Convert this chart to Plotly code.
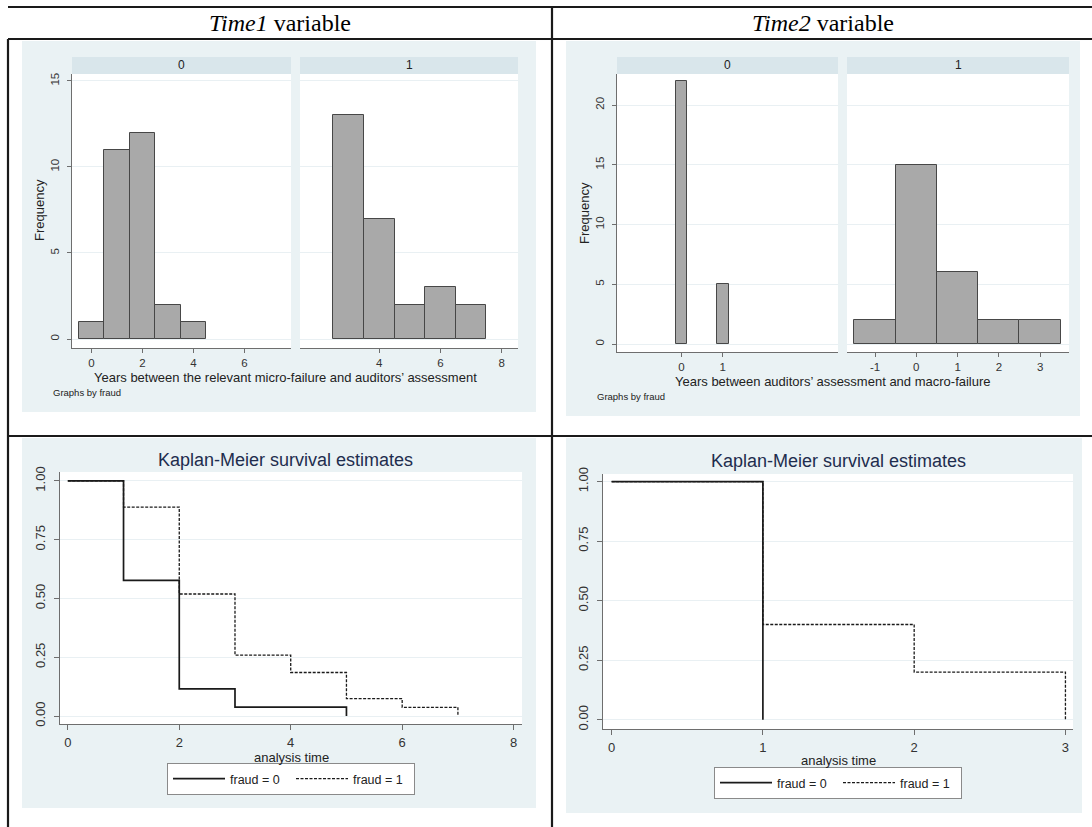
import plotly.graph_objects as go

W, H = 1092, 827

# ---- data -------------------------------------------------------------
# Time1 histogram (bins of width 1, centred on the integer years)
t1_bins_f0 = [0, 1, 2, 3, 4]
t1_freq_f0 = [1, 11, 12, 2, 1]
t1_bins_f1 = [3, 4, 5, 6, 7]
t1_freq_f1 = [13, 7, 2, 3, 2]

# Time2 histogram
t2_bins_f0 = [0, 1]
t2_freq_f0 = [22, 5]
t2_bins_f1 = [-1, 0, 1, 2, 3]
t2_freq_f1 = [2, 15, 6, 2, 2]

# Kaplan-Meier survival estimates (step functions)
km1_time_f0 = [0, 1, 2, 3, 5]
km1_surv_f0 = [1.0, 0.577, 0.115, 0.038, 0.0]
km1_time_f1 = [0, 1, 2, 3, 4, 5, 6, 7]
km1_surv_f1 = [1.0, 0.889, 0.519, 0.259, 0.185, 0.074, 0.037, 0.0]
km2_time_f0 = [0, 1]
km2_surv_f0 = [1.0, 0.0]
km2_time_f1 = [0, 1, 2, 3]
km2_surv_f1 = [1.0, 0.4, 0.2, 0.0]

t1_yticks = [0, 5, 10, 15]
t1_xticks_f0 = [0, 2, 4, 6]
t1_xticks_f1 = [4, 6, 8]
t2_yticks = [0, 5, 10, 15, 20]
t2_xticks_f0 = [0, 1]
t2_xticks_f1 = [-1, 0, 1, 2, 3]
km_yticks = [0.0, 0.25, 0.5, 0.75, 1.0]
km1_xticks = [0, 2, 4, 6, 8]
km2_xticks = [0, 1, 2, 3]
group_labels = ["0", "1"]
legend_labels = ["fraud = 0", "fraud = 1"]

# ---- styling ----------------------------------------------------------
SANS = "Liberation Sans, Arial, sans-serif"
SERIF = "Liberation Serif, Times New Roman, serif"
GRAPH_BG = "#EAF2F4"
STRIP_BG = "#D9E6EB"
GRID = "#E9F0F3"
AXIS = "#6E6E6E"
BAR_FILL = "#A9A9A9"
BAR_LINE = "#474747"
INK = "#222222"
TITLE_INK = "#1E2D4E"


def fx(px):
    return px / W


def fy(py):
    return 1 - py / H


def labels(vals, fmt):
    # plain ASCII hyphen for negatives
    return [fmt.format(v).replace("\u2212", "-") for v in vals]


fig = go.Figure()
layout_axes = {}


def add_axes(n, x0, x1, y0, y1, xrange, yrange, xticks, yticks, show_y,
             tick_size, ticklen, x_standoff, y_standoff, yfmt="{:g}"):
    xs = "" if n == 1 else str(n)
    layout_axes["xaxis" + xs] = dict(
        domain=[fx(x0), fx(x1)], range=xrange, anchor="y" + xs,
        automargin=False,
        tickmode="array", tickvals=xticks, ticktext=labels(xticks, "{:g}"),
        ticks="outside", ticklen=ticklen,
        tickcolor=AXIS, showline=True, linecolor=AXIS, linewidth=1,
        showgrid=False, zeroline=False, ticklabelstandoff=x_standoff,
        tickfont=dict(family=SANS, size=tick_size, color="#333"),
        fixedrange=True,
    )
    ya = dict(
        domain=[fy(y1), fy(y0)], range=yrange, anchor="x" + xs,
        automargin=False,
        tickmode="array", tickvals=yticks, ticktext=labels(yticks, yfmt),
        showgrid=True, gridcolor=GRID, gridwidth=1, zeroline=False,
        fixedrange=True,
    )
    if show_y:
        ya.update(ticks="outside", ticklen=ticklen, tickcolor=AXIS,
                  showline=True, linecolor=AXIS, linewidth=1,
                  tickangle=-90, ticklabelstandoff=y_standoff,
                  tickfont=dict(family=SANS, size=tick_size, color="#333"))
    else:
        ya.update(ticks="", showline=False, showticklabels=False)
    layout_axes["yaxis" + xs] = ya


# Time1 panels
add_axes(1, 72, 291, 74, 348, [-0.76, 7.82], [-0.52, 15.4],
         t1_xticks_f0, t1_yticks, True, 11.5, 4, 0, 3)
add_axes(2, 300, 518, 74, 348, [1.41, 8.53], [-0.52, 15.4],
         t1_xticks_f1, t1_yticks, False, 11.5, 4, 0, 3)
# Time2 panels
add_axes(3, 617, 838, 74, 352, [-1.56, 3.79], [-0.67, 22.6],
         t2_xticks_f0, t2_yticks, True, 11.5, 4, 0, 3)
add_axes(4, 847, 1069, 74, 352, [-1.68, 3.70], [-0.67, 22.6],
         t2_xticks_f1, t2_yticks, False, 11.5, 4, 0, 3)
# Kaplan-Meier panels
add_axes(5, 60, 522, 472, 724, [-0.14, 8.15], [-0.034, 1.038],
         km1_xticks, km_yticks, True, 13, 5, 1, 4, "{:.2f}")
add_axes(6, 603, 1073, 474, 729, [-0.057, 3.05], [-0.039, 1.032],
         km2_xticks, km_yticks, True, 13, 5, 1, 4, "{:.2f}")

bar_style = dict(color=BAR_FILL, line=dict(color=BAR_LINE, width=1))

fig.add_trace(go.Bar(x=t1_bins_f0, y=t1_freq_f0, width=1, marker=bar_style,
                     xaxis="x", yaxis="y", showlegend=False))
fig.add_trace(go.Bar(x=t1_bins_f1, y=t1_freq_f1, width=1, marker=bar_style,
                     xaxis="x2", yaxis="y2", showlegend=False))
fig.add_trace(go.Bar(x=t2_bins_f0, y=t2_freq_f0, width=0.28, marker=bar_style,
                     xaxis="x3", yaxis="y3", showlegend=False))
fig.add_trace(go.Bar(x=t2_bins_f1, y=t2_freq_f1, width=1, marker=bar_style,
                     xaxis="x4", yaxis="y4", showlegend=False))

solid = dict(color="#1A1A1A", width=1.7, shape="hv")
dashed = dict(color="#1A1A1A", width=1.3, shape="hv", dash="3px,1.5px")

fig.add_trace(go.Scatter(x=km1_time_f0, y=km1_surv_f0, mode="lines",
                         line=solid, name=legend_labels[0],
                         xaxis="x5", yaxis="y5", legend="legend"))
fig.add_trace(go.Scatter(x=km1_time_f1, y=km1_surv_f1, mode="lines",
                         line=dashed, name=legend_labels[1],
                         xaxis="x5", yaxis="y5", legend="legend"))
fig.add_trace(go.Scatter(x=km2_time_f0, y=km2_surv_f0, mode="lines",
                         line=solid, name=legend_labels[0],
                         xaxis="x6", yaxis="y6", legend="legend2"))
fig.add_trace(go.Scatter(x=km2_time_f1, y=km2_surv_f1, mode="lines",
                         line=dashed, name=legend_labels[1],
                         xaxis="x6", yaxis="y6", legend="legend2"))

# ---- background blocks, strips and table rules -------------------------
shapes = []


def rect(x0, y0, x1, y1, fill, line=None, width=0):
    shapes.append(dict(type="rect", xref="paper", yref="paper",
                       x0=fx(x0), x1=fx(x1), y0=fy(y1), y1=fy(y0),
                       fillcolor=fill, layer="below",
                       line=dict(color=line or fill, width=width)))


def rule(x0, y0, x1, y1):
    shapes.append(dict(type="line", xref="paper", yref="paper",
                       x0=fx(x0), x1=fx(x1), y0=fy(y0), y1=fy(y1),
                       layer="above", line=dict(color="#1A1A1A", width=2.2)))


# graph regions
rect(22, 41, 536, 412, GRAPH_BG)
rect(566, 41, 1080, 416, GRAPH_BG)
rect(22, 438, 536, 808, GRAPH_BG)
rect(566, 438, 1082, 813, GRAPH_BG)
# plot regions
rect(72, 74, 291, 348, "white")
rect(300, 74, 518, 348, "white")
rect(617, 74, 838, 352, "white")
rect(847, 74, 1069, 352, "white")
rect(60, 472, 522, 724, "white")
rect(603, 474, 1073, 729, "white")
# by-group strips
rect(72, 57, 291, 74, STRIP_BG)
rect(300, 57, 518, 74, STRIP_BG)
rect(617, 57, 838, 74, STRIP_BG)
rect(847, 57, 1069, 74, STRIP_BG)

# table rules
rule(8, 7, W, 7)
rule(8, 39, W, 39)
rule(8, 436, W, 436)
rule(8, 39, 8, H)
rule(552, 7, 552, H)

# ---- text -------------------------------------------------------------
ann = []


def text(x, y, s, size, color=INK, family=SANS, angle=0, xanchor="center"):
    ann.append(dict(x=fx(x), y=fy(y), xref="paper", yref="paper", text=s,
                    showarrow=False, xanchor=xanchor, yanchor="middle",
                    textangle=angle, font=dict(family=family, size=size,
                                               color=color)))


text(280, 23, "<i>Time1</i> variable", 24, "#000", SERIF)
text(823, 23, "<i>Time2</i> variable", 24, "#000", SERIF)

text(181.5, 65.5, group_labels[0], 12)
text(409, 65.5, group_labels[1], 12)
text(727.5, 65.5, group_labels[0], 12)
text(958, 65.5, group_labels[1], 12)

text(40, 210, "Frequency", 13, angle=-90)
text(584, 213, "Frequency", 13, angle=-90)
text(285, 377, "Years between the relevant micro-failure and auditors’ assessment", 13)
text(833, 381, "Years between auditors’ assessment and macro-failure", 13)
text(51, 392, "Graphs by fraud", 9.5, xanchor="left")
text(595, 397, "Graphs by fraud", 9.5, xanchor="left")

text(285, 460, "Kaplan-Meier survival estimates", 18, TITLE_INK)
text(838, 461, "Kaplan-Meier survival estimates", 18, TITLE_INK)
text(291, 757, "analysis time", 13)
text(838, 760, "analysis time", 13)

legend_common = dict(orientation="h", xanchor="center", yanchor="middle",
                     bgcolor="white", bordercolor="#8A8A8A", borderwidth=1,
                     font=dict(family=SANS, size=12.5, color=INK),
                     itemwidth=52, entrywidth=56, entrywidthmode="pixels",
                     tracegroupgap=0, traceorder="normal", itemclick=False,
                     itemdoubleclick=False)

fig.update_layout(
    width=W, height=H,
    margin=dict(l=0, r=0, t=0, b=0, autoexpand=False),
    paper_bgcolor="white",
    plot_bgcolor="rgba(0,0,0,0)",
    bargap=0,
    shapes=shapes,
    annotations=ann,
    legend=dict(x=fx(291), y=fy(779), **legend_common),
    legend2=dict(x=fx(838), y=fy(783), **legend_common),
    **layout_axes,
)

fig.write_html("out.html")
